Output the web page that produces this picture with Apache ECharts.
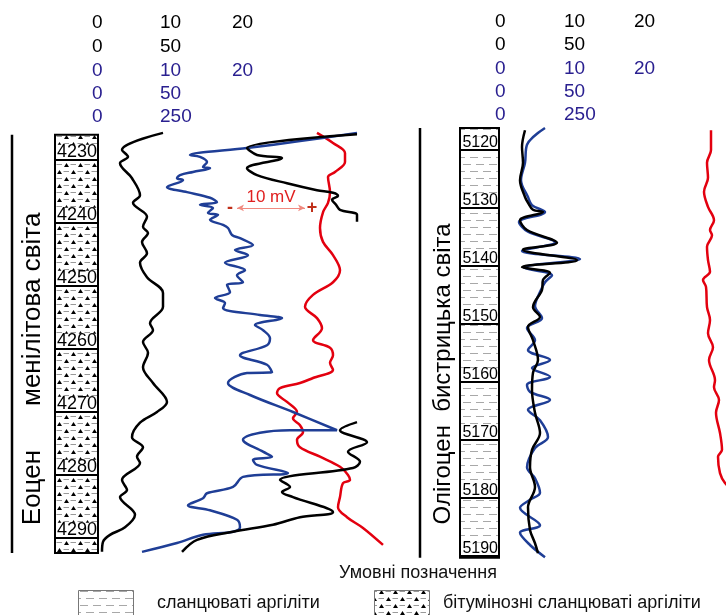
<!DOCTYPE html>
<html>
<head>
<meta charset="utf-8">
<script src="https://cdn.jsdelivr.net/npm/echarts@6/dist/echarts.min.js"></script>
<style>
  html, body { margin: 0; padding: 0; background: #fff; }
  #chart { width: 726px; height: 615px; }
</style>
</head>
<body>
<div id="chart"></div>
<script>
// track position (u) vs depth (m); u is a relative track unit, 1 unit = 2 px
const leftDepthTicks = [4230, 4240, 4250, 4260, 4270, 4280, 4290];
const rightDepthTicks = [5120, 5130, 5140, 5150, 5160, 5170, 5180, 5190];

const lithoNames = ['бітумінозні сланцюваті аргіліти', 'сланцюваті аргіліти'];
const leftLitho = [[4226.0, 4292.4, 0]];
const rightLitho = [[5116.2, 5190.3, 1]];

const leftFormation = [[4226.0, 4292.4]];
const rightFormation = [[5116.2, 5190.3]];
const leftFormationNames = ['Еоцен', 'менілітова світа'];
const leftFormationDepths = [4282.0, 4253.7];
const rightFormationNames = ['Олігоцен', 'бистрицька світа'];
const rightFormationDepths = [5176.0, 5148.9];

const scaleLabels = [['0', '10', '20'], ['0', '50'], ['0', '10', '20'], ['0', '50'], ['0', '250']];
const scaleColors = ['#000', '#000', '#2a2090', '#2a2090', '#2a2090'];

const leftBlack1 = [
  [31.5, 4225.7], [11, 4228.4], [14, 4229.5], [10, 4230.5], [16, 4232.9], [20, 4235.6],
  [16.5, 4236.8], [23.5, 4239.0], [21.5, 4240.6], [24, 4241.6], [21, 4243.0], [23.5, 4244.8],
  [20, 4246.3], [23.5, 4248.6], [31.5, 4251.1], [31.5, 4253.3], [25, 4255.9], [26.5, 4257.0],
  [21.5, 4258.9], [24, 4260.6], [21.5, 4262.9], [26.5, 4265.4], [33.5, 4268.4], [28.5, 4270.0],
  [20, 4271.7], [16, 4274.0], [21.5, 4275.6], [18.5, 4277.1], [20, 4278.1], [11, 4280.8],
  [13.5, 4282.4], [10, 4283.5], [17.5, 4286.3], [12.5, 4288.3], [5, 4289.5], [1.5, 4290.6], [1, 4292.2]
];

const leftBlue = [
  [128.5, 4225.7], [100, 4227.0], [73.5, 4228.1], [45, 4229.2], [50, 4229.5], [53.5, 4230.3],
  [51.5, 4231.1], [55, 4231.3], [46.5, 4231.9], [40, 4232.4], [38.5, 4232.9], [41.5, 4233.2],
  [33.5, 4234.3], [43.5, 4235.1], [55, 4236.0], [58.5, 4236.7], [50, 4237.1], [56.5, 4237.6],
  [54, 4238.4], [59, 4238.7], [55, 4239.5], [61.5, 4240.3], [64, 4240.8], [66, 4241.9],
  [70, 4242.4], [76.5, 4243.5], [67.5, 4244.3], [74, 4245.1], [62.5, 4246.3], [72.5, 4247.5],
  [68.5, 4248.3], [71.5, 4249.4], [63.5, 4249.8], [65, 4251.0], [57.5, 4251.9], [62.5, 4252.7],
  [61.5, 4253.5], [80, 4254.6], [91, 4255.1], [77.5, 4256.2], [81.5, 4257.0], [85, 4258.3],
  [83.5, 4259.4], [70, 4261.0], [83.5, 4262.5], [86, 4263.7], [73.5, 4263.8], [64, 4265.4],
  [75, 4267.3], [96.5, 4270.0], [118.5, 4272.9], [95, 4272.9], [80, 4273.3], [71.5, 4274.4],
  [81.5, 4276.3], [86, 4277.1], [76.5, 4277.6], [78.5, 4278.4], [94, 4279.7], [71.5, 4280.3],
  [66.5, 4281.9], [53.5, 4282.9], [51.5, 4283.7], [44, 4284.8], [55, 4285.6], [68.5, 4287.1],
  [70, 4288.3], [66.5, 4289.0], [51.5, 4289.5], [38.5, 4290.8], [21, 4292.2]
];

const leftRed = [
  [108.5, 4225.7], [116.5, 4227.3], [122.5, 4228.9], [122.5, 4230.3], [117.5, 4231.9], [114, 4232.7],
  [115, 4235.1], [114, 4236.8], [111.5, 4238.3], [110, 4240.8], [111.5, 4243.0], [116.5, 4245.1],
  [120, 4247.5], [116.5, 4249.4], [106.5, 4251.4], [102.5, 4253.3], [108.5, 4255.1], [111, 4256.7],
  [106.5, 4258.6], [115, 4259.8], [116.5, 4261.0], [115, 4262.2], [116.5, 4263.3], [106.5, 4264.6],
  [100, 4265.4], [90, 4266.2], [88.5, 4267.0], [93.5, 4268.4], [98.5, 4270.0], [96.5, 4271.0],
  [100, 4272.1], [101.5, 4273.2], [98.5, 4274.4], [100, 4275.6], [110, 4277.1], [120, 4278.7],
  [124, 4280.0], [125, 4280.8], [121.5, 4281.3], [120, 4283.5], [119, 4285.1], [123.5, 4286.7],
  [131.5, 4288.4], [141.5, 4291.1]
];

const leftBlack2Top = [
  [128.5, 4225.9], [73.5, 4228.1], [78.5, 4229.2], [91, 4229.7], [73.5, 4231.3], [78.5, 4232.4],
  [93.5, 4233.7], [108.5, 4234.8], [116.5, 4235.2], [119, 4235.7], [116, 4236.3], [118, 4237.1],
  [120, 4237.9], [128.5, 4238.7], [128.5, 4239.8]
];

const leftBlack2Bottom = [
  [128.5, 4271.6], [120, 4272.9], [133.5, 4274.8], [124, 4276.3], [130, 4277.9], [126.5, 4278.9],
  [90, 4280.8], [95, 4281.9], [91, 4282.7], [96.5, 4283.5], [116.5, 4285.9], [100, 4286.7],
  [86.5, 4287.9], [66.5, 4289.0], [48.5, 4290.3], [41, 4292.2]
];

const rightBlack = [
  [10, 5116.6], [8.5, 5119.5], [9, 5122.2], [7.5, 5125.2], [10, 5128.1], [11.5, 5129.1],
  [14, 5130.3], [19, 5130.7], [7.5, 5132.1], [11, 5133.8], [26, 5136.0], [9, 5137.2],
  [36, 5139.0], [8.5, 5140.2], [22.5, 5141.2], [19, 5142.4], [18.5, 5144.1], [14, 5147.1],
  [17.5, 5148.8], [11.5, 5150.5], [14, 5152.8], [16.5, 5156.2], [14, 5158.4], [13.5, 5161.4],
  [15, 5165.3], [17.5, 5168.8], [13.5, 5171.7], [12.5, 5174.7], [15, 5178.1], [11.5, 5181.6],
  [12.5, 5185.5], [15, 5187.8], [16.5, 5189.5]
];

const rightBlue = [
  [20, 5116.2], [11, 5119.1], [10, 5122.2], [8, 5125.2], [11.5, 5128.1], [13.5, 5129.5],
  [20, 5130.7], [7, 5132.4], [11.5, 5134.1], [25, 5135.9], [8.5, 5137.4], [37.5, 5138.8],
  [9.5, 5140.3], [23.5, 5141.6], [20, 5142.8], [17.5, 5144.5], [15, 5146.9], [18.5, 5149.0],
  [11, 5150.7], [15, 5152.8], [11.5, 5154.5], [22.5, 5156.2], [13.5, 5157.6], [22.5, 5159.1],
  [11, 5160.5], [12.5, 5161.7], [22.5, 5163.1], [11.5, 5164.8], [17.5, 5166.6], [21.5, 5169.5],
  [15, 5171.4], [11, 5174.7], [15, 5176.6], [17.5, 5179.1], [12.5, 5180.3], [7.5, 5181.7],
  [17.5, 5184.7], [7.5, 5186.0], [12.5, 5188.1], [20, 5190.2]
];

const rightRed = [
  [103, 5116.6], [103, 5120.0], [101, 5122.2], [101.5, 5124.8], [99.5, 5127.2], [101.5, 5129.8],
  [104.5, 5132.1], [102.5, 5133.8], [103.5, 5134.7], [101, 5136.7], [101.5, 5139.0], [102.5, 5141.0],
  [99, 5142.4], [100.5, 5143.6], [101, 5147.1], [102.5, 5149.3], [101.5, 5151.6], [104, 5154.0],
  [102, 5156.2], [105, 5159.7], [104.5, 5160.9], [107, 5163.1], [105.5, 5165.3], [107.5, 5168.8],
  [108.5, 5171.7], [106.5, 5172.9], [107.5, 5175.7], [110, 5177.4], [115, 5179.0]
];

// SP scale bar: 10 mV between these two track positions
const spBar = [68.5, 102.5];
const spBarDepth = 4237.6;

const FONT = '"Liberation Sans", Arial, sans-serif';

function triangle(g, cx, base) {
  g.beginPath();
  g.moveTo(cx - 2.5, base);
  g.lineTo(cx + 2.5, base);
  g.lineTo(cx, base - 4);
  g.closePath();
  g.fill();
}

function bitumenPattern() {
  const c = document.createElement('canvas');
  c.width = 14; c.height = 14;
  const g = c.getContext('2d');
  g.fillStyle = '#fff'; g.fillRect(0, 0, 14, 14);
  g.strokeStyle = '#9a9a9a'; g.lineWidth = 1;
  g.beginPath();
  g.moveTo(7.5, 3.5); g.lineTo(13, 3.5);
  g.moveTo(0.5, 10.5); g.lineTo(6, 10.5);
  g.stroke();
  g.fillStyle = '#000';
  triangle(g, 3.5, 6);
  triangle(g, 10.5, 13);
  return c;
}

function shalePattern() {
  const c = document.createElement('canvas');
  c.width = 26; c.height = 14;
  const g = c.getContext('2d');
  g.fillStyle = '#fff'; g.fillRect(0, 0, 26, 14);
  g.strokeStyle = '#a8a8a8'; g.lineWidth = 1.2;
  g.beginPath();
  g.moveTo(2, 3.5); g.lineTo(10, 3.5);
  g.moveTo(15, 3.5); g.lineTo(23, 3.5);
  g.moveTo(8, 10.5); g.lineTo(16, 10.5);
  g.moveTo(21, 10.5); g.lineTo(26, 10.5);
  g.moveTo(0, 10.5); g.lineTo(3, 10.5);
  g.stroke();
  return c;
}

const patterns = [
  { image: bitumenPattern(), repeat: 'repeat' },
  { image: shalePattern(), repeat: 'repeat' }
];

function lithoRender(offset, width) {
  return function (params, api) {
    const cs = params.coordSys;
    const y1 = api.coord([0, api.value(0)])[1];
    const y2 = api.coord([0, api.value(1)])[1];
    return {
      type: 'rect',
      shape: { x: cs.x + offset, y: y1, width: width, height: y2 - y1 },
      style: { fill: patterns[api.value(2)], stroke: '#000', lineWidth: 2 }
    };
  };
}

function tickRender(offset, width, fontSize) {
  return function (params, api) {
    const cs = params.coordSys;
    const d = api.value(0);
    const y = api.coord([0, d])[1];
    const x0 = cs.x + offset;
    return {
      type: 'group',
      children: [
        { type: 'rect', shape: { x: x0 + 1, y: y - fontSize * 0.85, width: width - 2, height: fontSize * 0.85 }, style: { fill: '#fff' } },
        { type: 'line', shape: { x1: x0, y1: y, x2: x0 + width, y2: y }, style: { stroke: '#000', lineWidth: 2 } },
        {
          type: 'text', x: x0 + width - 1, y: y + 1,
          style: { text: String(d), fill: '#000', font: fontSize + 'px ' + FONT, align: 'right', verticalAlign: 'bottom' }
        }
      ]
    };
  };
}

function formationRender(offset) {
  return function (params, api) {
    const cs = params.coordSys;
    const y1 = api.coord([0, api.value(0)])[1];
    const y2 = api.coord([0, api.value(1)])[1];
    return {
      type: 'line',
      shape: { x1: cs.x + offset, y1: y1, x2: cs.x + offset, y2: y2 },
      style: { stroke: '#000', lineWidth: 2.5 }
    };
  };
}

function formationLabelRender(offset, names, fontSize) {
  return function (params, api) {
    const cs = params.coordSys;
    const y = api.coord([0, api.value(0)])[1];
    return {
      type: 'text', x: cs.x + offset, y: y, rotation: Math.PI / 2,
      style: { text: names[params.dataIndex], fill: '#000', font: fontSize + 'px ' + FONT, align: 'center', verticalAlign: 'middle' }
    };
  };
}

function curve(data, color, gi, z) {
  return {
    type: 'line', data: data, xAxisIndex: gi, yAxisIndex: gi,
    symbol: 'none', smooth: 0.35, silent: true, z: z,
    lineStyle: { color: color, width: 2.5 }, itemStyle: { color: color }
  };
}

const BLACK = '#000', BLUE = '#1f3e96', RED = '#e3000f';

const redLeft = curve(leftRed, RED, 0, 2);
redLeft.markLine = {
  silent: true, symbol: ['arrow', 'arrow'], symbolSize: [5, 7],
  lineStyle: { color: '#f08a80', width: 1, type: 'solid' },
  label: { show: true, position: 'middle', formatter: '10 mV', color: '#e02020', fontSize: 17, fontFamily: FONT, distance: 2 },
  data: [[{ coord: [spBar[0], spBarDepth] }, { coord: [spBar[1], spBarDepth] }]]
};
redLeft.markPoint = {
  silent: true, symbol: 'rect', symbolSize: 1, itemStyle: { color: 'rgba(0,0,0,0)' },
  label: { show: true, position: 'inside', color: '#c0301a', fontSize: 18, fontWeight: 'bold', fontFamily: FONT },
  data: [
    { coord: [spBar[0] - 3.5, spBarDepth], label: { formatter: '-' } },
    { coord: [spBar[1] + 3.5, spBarDepth], label: { formatter: '+' } }
  ]
};

const graphics = [];
const headerX = [[92, 160, 232], [495, 564, 634]];
const headerY = [[23, 47, 71, 94, 117], [22, 45, 69, 92, 115]];
for (let p = 0; p < 2; p++) {
  scaleLabels.forEach(function (row, r) {
    row.forEach(function (t, k) {
      graphics.push({
        type: 'text', x: headerX[p][k], y: headerY[p][r],
        style: { text: t, fill: scaleColors[r], font: '19px ' + FONT, align: 'left', verticalAlign: 'middle' }
      });
    });
  });
}
graphics.push(
  { type: 'text', x: 418, y: 573, style: { text: 'Умовні позначення', fill: '#111', font: '18px ' + FONT, align: 'center', verticalAlign: 'middle' } },
  { type: 'rect', shape: { x: 78.5, y: 590.5, width: 55, height: 26 }, style: { fill: patterns[1], stroke: '#777', lineWidth: 1 } },
  { type: 'text', x: 157, y: 603, style: { text: lithoNames[1], fill: '#111', font: '18px ' + FONT, align: 'left', verticalAlign: 'middle' } },
  { type: 'rect', shape: { x: 374.5, y: 590.5, width: 55, height: 26 }, style: { fill: patterns[0], stroke: '#777', lineWidth: 1 } },
  { type: 'text', x: 443, y: 603, style: { text: lithoNames[0], fill: '#111', font: '18px ' + FONT, align: 'left', verticalAlign: 'middle' } }
);

const chart = echarts.init(document.getElementById('chart'), null, { renderer: 'canvas' });
chart.setOption({
  animation: false,
  backgroundColor: '#fff',
  grid: [
    { left: 0, top: 97, width: 400, height: 504 },
    { left: 410, top: 34, width: 316, height: 580 }
  ],
  xAxis: [
    { gridIndex: 0, type: 'value', min: -50, max: 150, show: false },
    { gridIndex: 1, type: 'value', min: -47.5, max: 110.5, show: false }
  ],
  yAxis: [
    { gridIndex: 0, type: 'value', inverse: true, min: 4220, max: 4300, show: false },
    { gridIndex: 1, type: 'value', inverse: true, min: 5100, max: 5200, show: false }
  ],
  graphic: graphics,
  series: [
    { type: 'custom', xAxisIndex: 0, yAxisIndex: 0, encode: { y: [0, 1] }, data: leftFormation, renderItem: formationRender(12), silent: true },
    { type: 'custom', xAxisIndex: 0, yAxisIndex: 0, encode: { y: 0 }, data: leftFormationDepths.map(d => [d]), renderItem: formationLabelRender(33, leftFormationNames, 26), silent: true },
    { type: 'custom', xAxisIndex: 0, yAxisIndex: 0, encode: { y: [0, 1] }, data: leftLitho, renderItem: lithoRender(55, 43), silent: true },
    { type: 'custom', xAxisIndex: 0, yAxisIndex: 0, encode: { y: 0 }, data: leftDepthTicks.map(d => [d]), renderItem: tickRender(55, 43, 18), silent: true, z: 3 },
    { type: 'custom', xAxisIndex: 1, yAxisIndex: 1, encode: { y: [0, 1] }, data: rightFormation, renderItem: formationRender(10), silent: true },
    { type: 'custom', xAxisIndex: 1, yAxisIndex: 1, encode: { y: 0 }, data: rightFormationDepths.map(d => [d]), renderItem: formationLabelRender(33, rightFormationNames, 24), silent: true },
    { type: 'custom', xAxisIndex: 1, yAxisIndex: 1, encode: { y: [0, 1] }, data: rightLitho, renderItem: lithoRender(50, 39), silent: true },
    { type: 'custom', xAxisIndex: 1, yAxisIndex: 1, encode: { y: 0 }, data: rightDepthTicks.map(d => [d]), renderItem: tickRender(50, 39, 16), silent: true, z: 3 },
    redLeft,
    curve(leftBlue, BLUE, 0, 3),
    curve(leftBlack1, BLACK, 0, 4),
    curve(leftBlack2Top, BLACK, 0, 4),
    curve(leftBlack2Bottom, BLACK, 0, 4),
    curve(rightRed, RED, 1, 2),
    curve(rightBlue, BLUE, 1, 3),
    curve(rightBlack, BLACK, 1, 4)
  ]
});
</script>
</body>
</html>
